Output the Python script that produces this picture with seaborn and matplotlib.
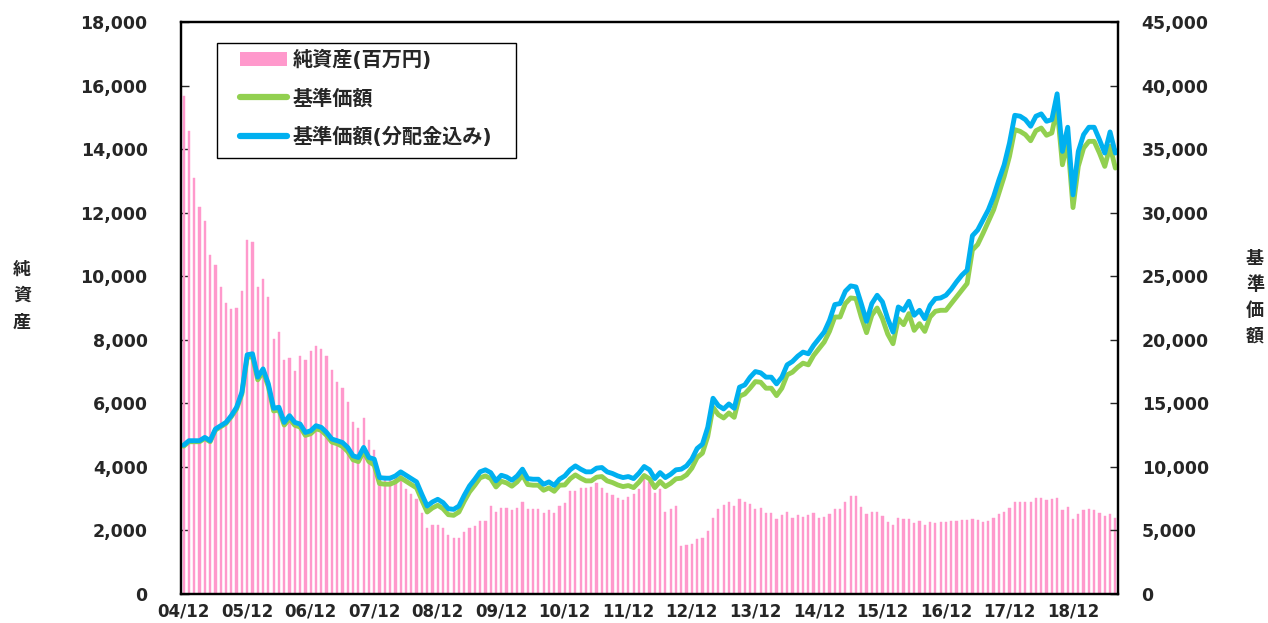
import numpy as np
import seaborn as sns
import matplotlib.pyplot as plt
from matplotlib.patches import Patch, Rectangle
from matplotlib.lines import Line2D
from matplotlib.ticker import FuncFormatter

# monthly data, 2004/12 onwards
net_assets = [
    15670, 14580, 13080, 12190, 11740, 10670, 10360, 9670, 9160, 8970, 8990, 9540,
    11130, 11070, 9660, 9920, 9340, 8020, 8260, 7350, 7440, 7010, 7490, 7360,
    7660, 7800, 7720, 7490, 7040, 6680, 6490, 6050, 5420, 5210, 5530, 4840,
    4530, 3770, 3720, 3720, 3720, 3770, 3300, 3140, 2980, 2560, 2090, 2160,
    2160, 2090, 1850, 1770, 1770, 1950, 2090, 2140, 2300, 2300, 2770, 2580,
    2720, 2720, 2640, 2720, 2900, 2660, 2660, 2660, 2540, 2630, 2560, 2770,
    2850, 3240, 3240, 3350, 3350, 3380, 3480, 3350, 3190, 3110, 3030, 2950,
    3060, 3140, 3300, 3610, 3510, 3190, 3300, 2580, 2690, 2770, 1510, 1530,
    1580, 1720, 1750, 1980, 2400, 2690, 2790, 2900, 2770, 3000, 2900, 2820,
    2690, 2710, 2540, 2540, 2370, 2480, 2580, 2400, 2480, 2430, 2480, 2560,
    2380, 2420, 2510, 2690, 2690, 2900, 3090, 3090, 2740, 2530, 2590, 2590,
    2450, 2260, 2160, 2380, 2350, 2370, 2240, 2300, 2180, 2260, 2240, 2260,
    2260, 2300, 2300, 2320, 2330, 2370, 2330, 2260, 2300, 2400, 2510, 2580,
    2700, 2910, 2910, 2900, 2900, 3020, 3020, 2970, 2980, 3010, 2640, 2750,
    2350, 2510, 2630, 2660, 2640, 2540, 2450, 2530, 2400,
]

nav = [
    11630, 11980, 11980, 11980, 12240, 11980, 12900, 13160, 13420, 13950, 14560, 15740,
    18610, 18690, 16850, 17500, 16320, 14400, 14480, 13290, 13790, 13270, 13140, 12480,
    12610, 13000, 12870, 12480, 11950, 11820, 11610, 11210, 10560, 10420, 11210, 10420,
    10140, 8690, 8640, 8640, 8820, 9140, 8870, 8610, 8350, 7370, 6450, 6770,
    6980, 6710, 6240, 6190, 6450, 7290, 8030, 8560, 9140, 9290, 9080, 8420,
    8870, 8740, 8480, 8820, 9350, 8610, 8560, 8560, 8160, 8350, 8080, 8560,
    8580, 9060, 9370, 9110, 8900, 8900, 9190, 9240, 8900, 8770, 8580, 8450,
    8530, 8370, 8790, 9320, 9060, 8370, 8850, 8450, 8710, 9060, 9110, 9370,
    9900, 10740, 11080, 12400, 14690, 14110, 13850, 14240, 13900, 15560, 15740, 16200,
    16710, 16660, 16190, 16190, 15610, 16190, 17240, 17450, 17850, 18160, 18030, 18770,
    19290, 19820, 20660, 21790, 21790, 22850, 23290, 23240, 21790, 20560, 21930, 22500,
    21660, 20450, 19690, 21660, 21190, 22060, 20740, 21270, 20660, 21790, 22240, 22320,
    22320, 22850, 23370, 23900, 24430, 27060, 27500, 28370, 29290, 30220, 31530, 32850,
    34430, 36530, 36400, 36140, 35660, 36450, 36660, 36090, 36270, 38240, 33770, 35610,
    30400, 33640, 35080, 35610, 35610, 34690, 33640, 35220, 33510,
]

nav_reinvested = [
    11710, 12060, 12060, 12060, 12320, 12060, 12980, 13240, 13500, 14030, 14690, 15870,
    18820, 18900, 17060, 17710, 16530, 14610, 14690, 13500, 14030, 13500, 13370, 12710,
    12840, 13240, 13110, 12710, 12190, 12060, 11920, 11530, 10870, 10740, 11530, 10740,
    10610, 9160, 9110, 9110, 9290, 9610, 9340, 9080, 8820, 7840, 6920, 7240,
    7450, 7190, 6710, 6660, 6920, 7760, 8500, 9030, 9610, 9770, 9550, 8900,
    9340, 9210, 8950, 9290, 9820, 9080, 9030, 9030, 8630, 8820, 8550, 9030,
    9290, 9770, 10080, 9820, 9610, 9610, 9900, 9950, 9610, 9480, 9290, 9160,
    9240, 9080, 9500, 10030, 9770, 9080, 9550, 9160, 9420, 9770, 9820, 10080,
    10610, 11450, 11790, 13110, 15400, 14820, 14560, 14950, 14610, 16270, 16450, 17050,
    17500, 17400, 17060, 17060, 16530, 17060, 18030, 18290, 18710, 19030, 18900, 19560,
    20080, 20610, 21530, 22770, 22850, 23820, 24240, 24160, 22850, 21450, 22850, 23500,
    22980, 21660, 20610, 22580, 22320, 23030, 21930, 22320, 21660, 22710, 23240, 23290,
    23500, 23980, 24560, 25080, 25480, 28190, 28640, 29430, 30220, 31270, 32580, 33770,
    35480, 37660, 37590, 37320, 36800, 37590, 37770, 37190, 37320, 39350, 34820, 36720,
    31400, 34820, 36140, 36720, 36720, 35740, 34690, 36350, 34690,
]

year_labels = ["04/12", "05/12", "06/12", "07/12", "08/12", "09/12", "10/12", "11/12",
               "12/12", "13/12", "14/12", "15/12", "16/12", "17/12", "18/12"]

pink = "#FF99CC"
green = "#92D050"
blue = "#00B0F0"

sns.set_style("white")
plt.rcParams["font.family"] = ["DejaVu Sans", "Noto Sans CJK JP"]
plt.rcParams["font.weight"] = "bold"

n = len(net_assets)
x = np.arange(n)

fig = plt.figure(figsize=(12.68, 6.23), dpi=100)
ax = fig.add_axes([181 / 1268, 29 / 623, 937 / 1268, 572 / 623])

sns.barplot(x=x, y=net_assets, color=pink, width=0.42, saturation=1,
            edgecolor=pink, linewidth=0.3, ax=ax)
ax.set_xlim(-0.5, n - 0.5)
ax.set_ylim(0, 18000)
ax.set_yticks(range(0, 18001, 2000))
ax.yaxis.set_major_formatter(FuncFormatter(lambda v, p: f"{int(v):,}"))
ax.set_xticks(range(0, 12 * len(year_labels), 12))
ax.set_xticklabels(year_labels)
ax.tick_params(axis="x", length=0, pad=6, labelsize=12)
ax.tick_params(axis="y", direction="in", length=6, width=1, pad=24, labelsize=12.5)
ax.set_xlabel("")
ax.set_ylabel("")

ax2 = ax.twinx()
sns.lineplot(x=x, y=nav, color=green, lw=3.5, ax=ax2)
sns.lineplot(x=x, y=nav_reinvested, color=blue, lw=3.5, ax=ax2)
ax2.set_xlim(-0.5, n - 0.5)
ax2.set_ylim(0, 45000)
ax2.set_yticks(range(0, 45001, 5000))
ax2.yaxis.set_major_formatter(FuncFormatter(lambda v, p: f"{int(v):,}"))
ax2.tick_params(axis="y", direction="in", length=6, width=1, pad=17, labelsize=12.5)
ax2.set_ylabel("")

for a in (ax, ax2):
    for s in a.spines.values():
        s.set_color("black")
        s.set_linewidth(1.6)

fig.text(22 / 1268, 1 - 296 / 623, "純\n資\n産", ha="center", va="center",
         fontsize=13, fontweight="bold", linespacing=1.6)
fig.text(1255 / 1268, 1 - 298 / 623, "基\n準\n価\n額", ha="center", va="center",
         fontsize=13, fontweight="bold", linespacing=1.55)

# legend box drawn separately so its padding matches
box = Rectangle((217 / 1268, 1 - 158 / 623), (516 - 217) / 1268, (158 - 43) / 623,
                transform=fig.transFigure, facecolor="white", edgecolor="black",
                lw=1, zorder=4)
ax2.add_patch(box)

handles = [
    Patch(facecolor=pink, edgecolor="none"),
    Line2D([0], [0], color=green, lw=4.5),
    Line2D([0], [0], color=blue, lw=4.5),
]
labels = ["純資産(百万円)", "基準価額", "基準価額(分配金込み)"]
leg = ax2.legend(handles, labels, loc="upper left",
                 bbox_to_anchor=(240 / 1268, 1 - 50 / 623),
                 bbox_transform=fig.transFigure, borderaxespad=0, borderpad=0,
                 frameon=False, fontsize=14.5, handlelength=2.35,
                 handletextpad=0.25, labelspacing=0.92)
leg.set_zorder(5)
for t in leg.get_texts():
    t.set_fontweight("bold")

fig.savefig("out.png", dpi=100)
